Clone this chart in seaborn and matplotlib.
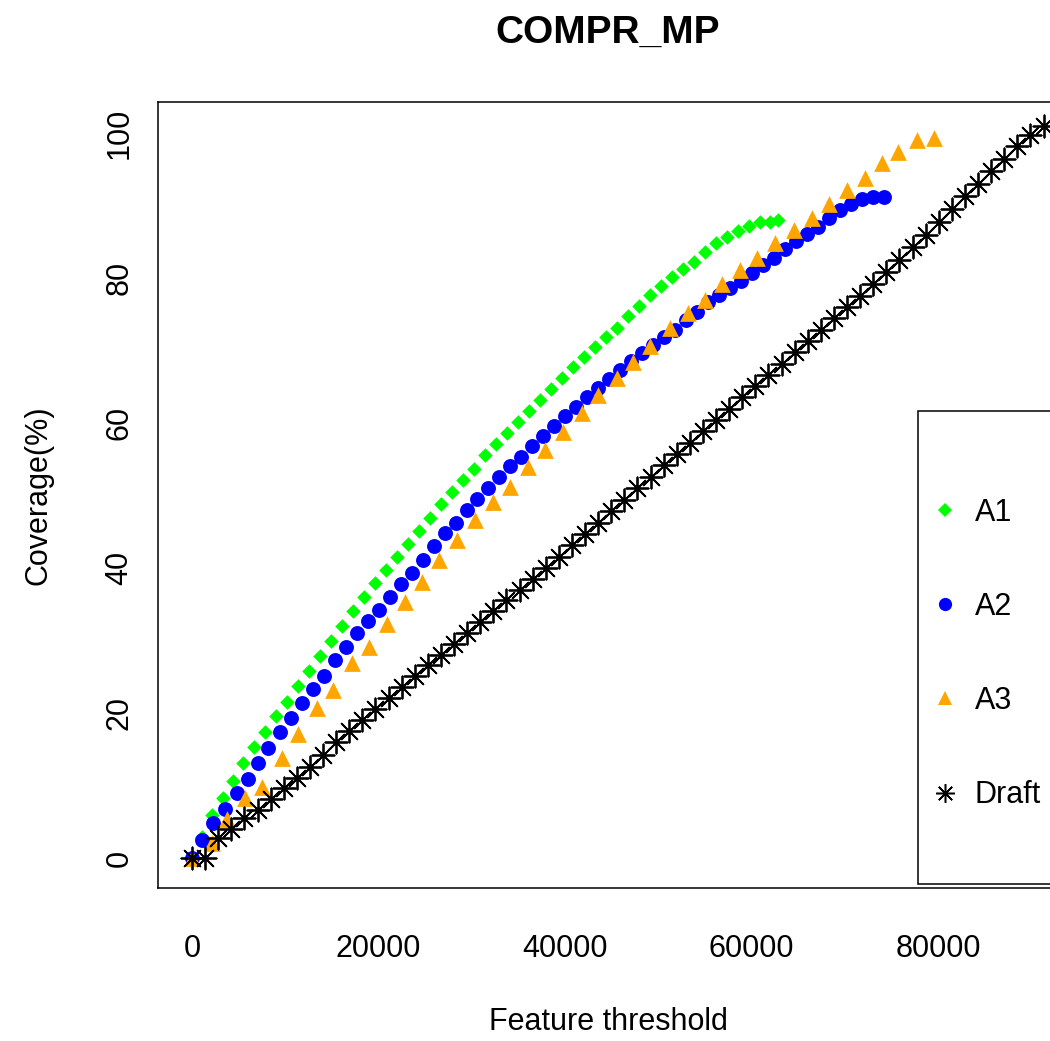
import matplotlib
matplotlib.use("Agg")
import matplotlib.pyplot as plt
import seaborn as sns
from matplotlib.lines import Line2D
from matplotlib.patches import Rectangle

sns.set_style("white")
plt.rcParams["font.family"] = ["Liberation Sans", "DejaVu Sans"]

# --- data ---
a1_x = [0, 1070, 2150, 3320, 4400, 5470, 6650, 7830, 9010, 10190,
        11370, 12550, 13730, 14910, 16090, 17270, 18450, 19630, 20810, 21980,
        23160, 24340, 25520, 26700, 27880, 29060, 30240, 31420, 32600, 33780,
        34960, 36140, 37320, 38500, 39680, 40860, 42040, 43220, 44400, 45580,
        46760, 47940, 49120, 50300, 51480, 52660, 53830, 55010, 56190, 57370,
        58550, 59730, 60910, 61990, 62840]
a1_y = [0, 2.9, 5.9, 8.3, 10.6, 13.2, 15.3, 17.4, 19.6, 21.5,
        23.7, 25.8, 27.9, 29.9, 32.0, 34.1, 36.0, 37.9, 39.7, 41.5,
        43.3, 45.1, 46.9, 48.8, 50.5, 52.1, 53.7, 55.6, 57.1, 58.6,
        60.1, 61.7, 63.2, 64.7, 66.2, 67.7, 69.1, 70.5, 71.9, 73.2,
        74.8, 76.1, 77.7, 78.9, 80.1, 81.2, 82.3, 83.6, 84.8, 85.7,
        86.5, 87.2, 87.7, 87.7, 88.0]

a2_x = [0, 1070, 2250, 3540, 4830, 6010, 7080, 8150, 9440, 10620,
        11800, 12980, 14160, 15340, 16520, 17700, 18870, 20050, 21230, 22410,
        23590, 24770, 25950, 27130, 28310, 29490, 30560, 31740, 32920, 34100,
        35280, 36460, 37640, 38820, 40000, 41180, 42360, 43540, 44720, 45900,
        47080, 48260, 49440, 50620, 51800, 52980, 54160, 55340, 56520, 57690,
        58870, 60050, 61230, 62410, 63590, 64770, 65950, 67130, 68310, 69490,
        70670, 71850, 73030, 74210]
a2_y = [0, 2.5, 4.8, 6.8, 9.0, 11.0, 13.2, 15.2, 17.4, 19.4,
        21.4, 23.4, 25.2, 27.3, 29.1, 31.0, 32.7, 34.3, 36.1, 37.8,
        39.4, 41.2, 43.0, 44.8, 46.3, 48.0, 49.5, 51.0, 52.6, 54.1,
        55.4, 56.8, 58.2, 59.6, 61.0, 62.3, 63.6, 64.8, 66.1, 67.3,
        68.6, 69.7, 70.8, 71.9, 72.8, 74.2, 75.4, 76.7, 77.7, 78.6,
        79.6, 80.7, 81.8, 82.8, 84.0, 85.1, 86.1, 87.0, 88.3, 89.4,
        90.2, 90.9, 91.2, 91.2]

a3_x = [0, 2150, 3750, 5680, 7510, 9650, 11370, 13410, 15120, 17160,
        18980, 20910, 22840, 24670, 26490, 28420, 30350, 32280, 34100, 36030,
        37860, 39790, 41820, 43540, 45580, 47290, 49120, 51260, 53190, 55010,
        56840, 58770, 60590, 62520, 64560, 66490, 68310, 70240, 72170, 74000,
        75710, 77750, 79570]
a3_y = [0, 2.1, 5.4, 8.3, 9.8, 13.8, 17.2, 20.7, 23.2, 26.9,
        29.2, 32.3, 35.3, 38.1, 41.2, 43.9, 46.6, 49.1, 51.2, 53.9,
        56.3, 58.8, 61.4, 63.9, 66.3, 68.4, 70.6, 73.1, 75.2, 77.0,
        79.2, 81.1, 82.8, 84.8, 86.6, 88.3, 90.3, 92.1, 93.8, 95.9,
        97.4, 99.0, 99.3]

draft_x = [0, 1405, 2810, 4215, 5620, 7025, 8430, 9835, 11240, 12645,
           14050, 15455, 16860, 18265, 19670, 21075, 22480, 23885, 25290, 26695,
           28100, 29505, 30910, 32315, 33720, 35125, 36530, 37935, 39340, 40745,
           42150, 43555, 44960, 46365, 47770, 49175, 50580, 51985, 53390, 54795,
           56200, 57605, 59010, 60415, 61820, 63225, 64630, 66035, 67440, 68845,
           70250, 71655, 73060, 74465, 75870, 77275, 78680, 80085, 81490, 82895,
           84300, 85705, 87110, 88515, 89920, 91325]
draft_y = [0, 0, 2.8, 4.0, 5.6, 6.6, 8.2, 9.7, 11.1, 12.6,
           14.3, 16.1, 17.6, 19.1, 20.6, 22.1, 23.6, 25.1, 26.6, 28.1,
           29.6, 31.1, 32.6, 34.1, 35.6, 37.0, 38.5, 40.0, 41.6, 43.2,
           44.7, 46.3, 47.9, 49.4, 51.0, 52.6, 54.2, 55.7, 57.3, 58.9,
           60.4, 62.0, 63.6, 65.1, 66.7, 68.2, 69.8, 71.4, 72.9, 74.5,
           76.0, 77.6, 79.2, 80.8, 82.5, 84.3, 86.0, 87.8, 89.5, 91.3,
           93.0, 94.8, 96.5, 98.3, 99.8, 101.0]

labels = ["A1", "A2", "A3", "Draft"]
colors = ["#00FF00", "#0000FF", "#FFA500", "#000000"]
x_ticks = [0, 20000, 40000, 60000, 80000]
y_ticks = [0, 20, 40, 60, 80, 100]

# --- figure, R-like base plot layout ---
fig = plt.figure(figsize=(10.5, 10.41), dpi=100)
ax = fig.add_axes([158 / 1050, 153 / 1041, 900 / 1050, 786 / 1041])

sns.scatterplot(x=a1_x, y=a1_y, ax=ax, marker="D", color=colors[0], s=55, linewidth=0, zorder=3)
sns.scatterplot(x=a2_x, y=a2_y, ax=ax, marker="o", color=colors[1], s=115, linewidth=0, zorder=3)
sns.scatterplot(x=a3_x, y=a3_y, ax=ax, marker="^", color=colors[2], s=145, linewidth=0, zorder=3)
sns.scatterplot(x=draft_x, y=draft_y, ax=ax, marker=(8, 2, 0), color=colors[3], s=255,
                linewidth=1.3, zorder=3)

ax.set_xlim(-3646, 92870)
ax.set_ylim(-4.1, 104.3)
ax.set_xticks(x_ticks)
ax.set_yticks(y_ticks)
ax.set_xticklabels([str(v) for v in x_ticks])
ax.set_yticklabels([str(v) for v in y_ticks], rotation=90, va="center")

ax.tick_params(axis="both", direction="out", length=10, width=1.1, color="black",
               labelsize=22, labelcolor="black")
ax.tick_params(axis="x", pad=23)
ax.tick_params(axis="y", pad=7)
for sp in ax.spines.values():
    sp.set_visible(True)
    sp.set_color("black")
    sp.set_linewidth(1.1)

ax.set_xlabel("Feature threshold", fontsize=22, color="black")
ax.set_ylabel("Coverage(%)", fontsize=22, color="black")
ax.xaxis.set_label_coords(0.5, -0.1705)
ax.yaxis.set_label_coords(-0.1333, 0.5)
ax.xaxis.label.set_va("center")
ax.yaxis.label.set_va("center")
ax.set_title("COMPR_MP", fontsize=28, fontweight="bold", color="black",
             y=1.088, va="center", pad=0)

# legend (bottom right, frame drawn separately like R's legend box)
ax.add_patch(Rectangle((0.8444, 0.0051), 0.151, 0.6018, transform=ax.transAxes,
                       facecolor="white", edgecolor="black", linewidth=1.1,
                       clip_on=False, zorder=4))
handles = [
    Line2D([], [], ls="", marker="D", color=colors[0], ms=7, mew=0),
    Line2D([], [], ls="", marker="o", color=colors[1], ms=9.5, mew=0),
    Line2D([], [], ls="", marker="^", color=colors[2], ms=10, mew=0),
    Line2D([], [], ls="", marker=(8, 2, 0), color=colors[3], ms=13.5, mew=1.1),
]
leg = ax.legend(handles, labels, loc="center left", bbox_to_anchor=(0.841, 0.2977),
                frameon=False, fontsize=22, handlelength=1.0, handletextpad=0.46,
                labelspacing=2.1, borderpad=0)
leg.set_zorder(5)
for t in leg.get_texts():
    t.set_color("black")

fig.savefig("out.png", dpi=100)
